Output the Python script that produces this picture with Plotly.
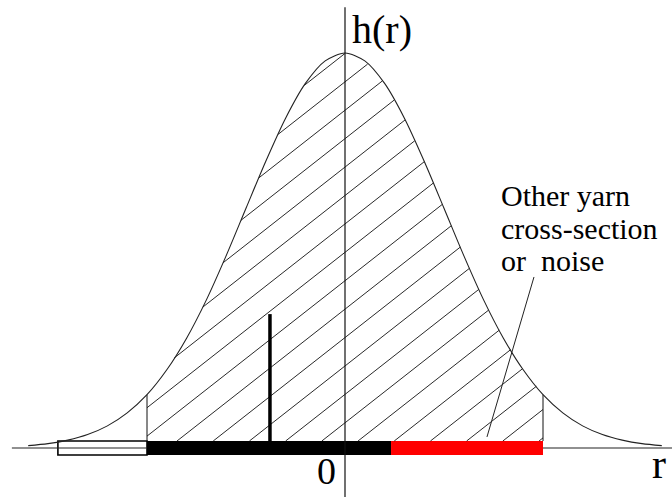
import numpy as np
import plotly.graph_objects as go

# ---- data (r in units of sigma, h normalised to peak) ----
curve_r = [-3.2, -3.0, -2.8, -2.6, -2.4, -2.2, -2.0, -1.8, -1.6, -1.4, -1.2, -1.0,
           -0.8, -0.6, -0.4, -0.2, 0.0, 0.2, 0.4, 0.6, 0.8, 1.0, 1.2, 1.4, 1.6,
           1.8, 2.0, 2.2, 2.4, 2.6, 2.8, 3.0, 3.2]
curve_h = [0.006, 0.011, 0.020, 0.034, 0.056, 0.089, 0.135, 0.198, 0.278, 0.375,
           0.487, 0.607, 0.726, 0.835, 0.923, 0.980, 1.000, 0.980, 0.923, 0.835,
           0.726, 0.607, 0.487, 0.375, 0.278, 0.198, 0.135, 0.089, 0.056, 0.034,
           0.020, 0.011, 0.006]

region_lo = -2.0          # left edge of hatched window
region_hi = 2.0           # right edge of hatched window

seg_start = [-2.90, -2.00, 0.465]     # white, black, red segments on the r axis
seg_end = [-2.00, 0.465, 2.00]
seg_fill = ["rgba(255,255,255,0)", "black", "#ff0000"]
seg_line = ["black", "black", "#ff0000"]
seg_half = 0.0177                      # half thickness of the segment bars

stem_r = -0.758
stem_h = 0.339

leader_r = [1.909, 1.434]
leader_h = [0.433, 0.028]

# hatch style
hatch_slope = 0.1967
hatch_step = 0.3657
hatch_phase = -1.697

x_range = [-3.4848, 3.3030]
y_range = [-0.12405, 1.13418]

fig = go.Figure()

# segment bars (through the library's bar scale)
fig.add_trace(go.Bar(
    y=[0, 0, 0], x=[e - s for s, e in zip(seg_start, seg_end)], base=seg_start,
    orientation="h", width=2 * seg_half,
    marker=dict(color=seg_fill, line=dict(color=seg_line, width=[1.6, 0, 0])),
    hoverinfo="skip", showlegend=False))

# axes drawn as lines
fig.add_trace(go.Scatter(x=[x_range[0] + 0.12, region_lo, None, region_hi, x_range[1]],
                         y=[0, 0, None, 0, 0], mode="lines",
                         line=dict(color="#222", width=1.2), hoverinfo="skip", showlegend=False))
fig.add_trace(go.Scatter(x=[0, 0], y=[1.116, y_range[0]], mode="lines",
                         line=dict(color="#111", width=1.2), hoverinfo="skip", showlegend=False))

# hatch lines clipped to the curve and the window
cr = np.array(curve_r)
ch = np.array(curve_h)
grid = np.linspace(region_lo, region_hi, 8001)
top = np.interp(grid, cr, ch)
hx, hy = [], []
for k in range(-12, 14):
    r0 = hatch_phase + hatch_step * k          # where the hatch meets the bar top
    lineh = seg_half + hatch_slope * (grid - r0)
    inside = (lineh >= seg_half) & (lineh <= top)
    if inside.sum() < 2:
        continue
    idx = np.nonzero(inside)[0]
    a, b = idx[0], idx[-1]
    hx += [grid[a], grid[b], None]
    hy += [lineh[a], lineh[b], None]
fig.add_trace(go.Scatter(x=hx, y=hy, mode="lines", line=dict(color="#111", width=0.9),
                         hoverinfo="skip", showlegend=False))

# window edges
for re_ in (region_lo, region_hi):
    fig.add_trace(go.Scatter(x=[re_, re_], y=[seg_half, np.interp(re_, cr, ch)], mode="lines",
                             line=dict(color="#111", width=1), hoverinfo="skip", showlegend=False))

# the curve
fig.add_trace(go.Scatter(x=curve_r, y=curve_h, mode="lines",
                         line=dict(color="#222", width=1.1, shape="spline", smoothing=0.8),
                         hoverinfo="skip", showlegend=False))

# stem
fig.add_trace(go.Scatter(x=[stem_r, stem_r], y=[seg_half, stem_h], mode="lines",
                         line=dict(color="black", width=3.5), hoverinfo="skip", showlegend=False))

# leader line
fig.add_trace(go.Scatter(x=leader_r, y=leader_h, mode="lines", line=dict(color="#222", width=1),
                         hoverinfo="skip", showlegend=False))

serif = "Liberation Serif, Times New Roman, serif"
ann = [
    dict(text="h(r)", x=0.0505, y=1.0607, xanchor="left", yanchor="middle", size=40),
    dict(text="0", x=-0.187, y=-0.0583, xanchor="center", yanchor="middle", size=38),
    dict(text="r", x=3.172, y=-0.0405, xanchor="center", yanchor="middle", size=42),
    dict(text="Other yarn", x=1.556, y=0.639, xanchor="left", yanchor="middle", size=30),
    dict(text="cross-section", x=1.556, y=0.5557, xanchor="left", yanchor="middle", size=30),
    dict(text="or\u00a0 noise", x=1.556, y=0.4747, xanchor="left", yanchor="middle", size=30),
]
for a in ann:
    fig.add_annotation(text=a["text"], x=a["x"], y=a["y"], xref="x", yref="y",
                       xanchor=a["xanchor"], yanchor=a["yanchor"], showarrow=False,
                       font=dict(family=serif, size=a["size"], color="black"))

fig.update_layout(
    width=672, height=497, margin=dict(l=0, r=0, t=0, b=0),
    paper_bgcolor="white", plot_bgcolor="white", barmode="overlay",
    xaxis=dict(range=x_range, visible=False, fixedrange=True),
    yaxis=dict(range=y_range, visible=False, fixedrange=True),
    showlegend=False,
)

fig.write_html("out.html", config={"displayModeBar": False},
               post_script="document.body.style.margin='0';")
